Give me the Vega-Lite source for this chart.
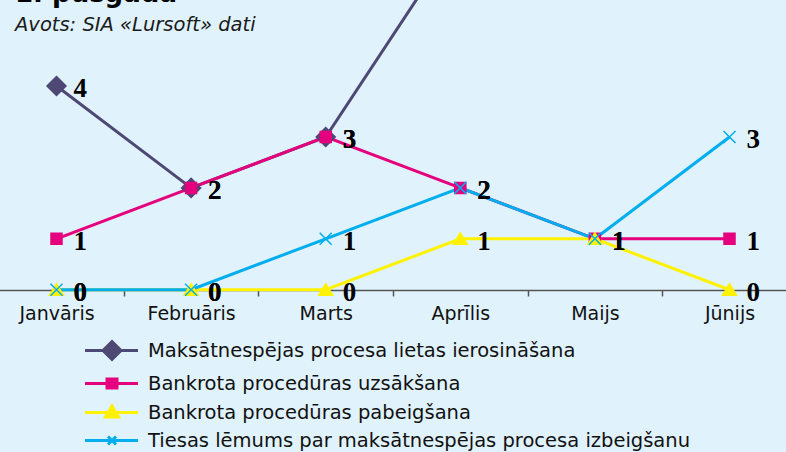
{
  "$schema": "https://vega.github.io/schema/vega-lite/v6.json",
  "width": 786,
  "height": 305,
  "autosize": {"type": "none"},
  "padding": {"top": 0, "left": 0, "right": 0, "bottom": 147},
  "background": "#E0F2FC",
  "config": {"view": {"stroke": null}, "font": "DejaVu Sans"},
  "title": {
    "text": "1. pusgadā",
    "subtitle": "Avots: SIA «Lursoft» dati",
    "anchor": "start",
    "frame": "group",
    "orient": "top",
    "dx": 15,
    "offset": -34,
    "font": "DejaVu Sans",
    "fontSize": 26,
    "fontWeight": "bold",
    "color": "#000000",
    "subtitleFont": "DejaVu Sans",
    "subtitleFontSize": 19.5,
    "subtitleFontStyle": "italic",
    "subtitleColor": "#1a1a1a",
    "subtitlePadding": 9
  },
  "data": {
    "values": [
      {"month": "Janvāris", "series": "Maksātnespējas procesa lietas ierosināšana", "value": 4},
      {"month": "Februāris", "series": "Maksātnespējas procesa lietas ierosināšana", "value": 2},
      {"month": "Marts", "series": "Maksātnespējas procesa lietas ierosināšana", "value": 3},
      {"month": "Aprīlis", "series": "Maksātnespējas procesa lietas ierosināšana", "value": 7},
      {"month": "Maijs", "series": "Maksātnespējas procesa lietas ierosināšana", "value": 8},
      {"month": "Jūnijs", "series": "Maksātnespējas procesa lietas ierosināšana", "value": 7},
      {"month": "Janvāris", "series": "Bankrota procedūras uzsākšana", "value": 1},
      {"month": "Februāris", "series": "Bankrota procedūras uzsākšana", "value": 2},
      {"month": "Marts", "series": "Bankrota procedūras uzsākšana", "value": 3},
      {"month": "Aprīlis", "series": "Bankrota procedūras uzsākšana", "value": 2},
      {"month": "Maijs", "series": "Bankrota procedūras uzsākšana", "value": 1},
      {"month": "Jūnijs", "series": "Bankrota procedūras uzsākšana", "value": 1},
      {"month": "Janvāris", "series": "Bankrota procedūras pabeigšana", "value": 0},
      {"month": "Februāris", "series": "Bankrota procedūras pabeigšana", "value": 0},
      {"month": "Marts", "series": "Bankrota procedūras pabeigšana", "value": 0},
      {"month": "Aprīlis", "series": "Bankrota procedūras pabeigšana", "value": 1},
      {"month": "Maijs", "series": "Bankrota procedūras pabeigšana", "value": 1},
      {"month": "Jūnijs", "series": "Bankrota procedūras pabeigšana", "value": 0},
      {"month": "Janvāris", "series": "Tiesas lēmums par maksātnespējas procesa izbeigšanu", "value": 0},
      {"month": "Februāris", "series": "Tiesas lēmums par maksātnespējas procesa izbeigšanu", "value": 0},
      {"month": "Marts", "series": "Tiesas lēmums par maksātnespējas procesa izbeigšanu", "value": 1},
      {"month": "Aprīlis", "series": "Tiesas lēmums par maksātnespējas procesa izbeigšanu", "value": 2},
      {"month": "Maijs", "series": "Tiesas lēmums par maksātnespējas procesa izbeigšanu", "value": 1},
      {"month": "Jūnijs", "series": "Tiesas lēmums par maksātnespējas procesa izbeigšanu", "value": 3}
    ]
  },
  "encoding": {
    "x": {
      "field": "month",
      "type": "nominal",
      "sort": ["Janvāris", "Februāris", "Marts", "Aprīlis", "Maijs", "Jūnijs"],
      "scale": {"type": "band", "range": [-10.8, 796.8], "paddingInner": 0, "paddingOuter": 0},
      "axis": {
        "title": null,
        "labelAngle": 0,
        "offset": -15,
        "tickBand": "extent",
        "domainColor": "#555555",
        "domainWidth": 1.5,
        "tickColor": "#555555",
        "tickWidth": 1.5,
        "tickSize": 6,
        "labelFont": "DejaVu Sans",
        "labelFontSize": 19,
        "labelColor": "#111111",
        "labelPadding": 8
      }
    },
    "y": {
      "field": "value",
      "type": "quantitative",
      "scale": {"domain": [-0.3, 5.69], "nice": false, "zero": false},
      "axis": null
    }
  },
  "layer": [
    {
      "mark": {"type": "line", "strokeWidth": 3, "clip": true},
      "encoding": {
        "color": {
          "field": "series",
          "type": "nominal",
          "scale": {
            "domain": ["Maksātnespējas procesa lietas ierosināšana", "Bankrota procedūras uzsākšana", "Bankrota procedūras pabeigšana", "Tiesas lēmums par maksātnespējas procesa izbeigšanu"],
            "range": ["#4E4875", "#E5007E", "#FFF200", "#00AEEF"]
          },
          "legend": {
            "orient": "none",
            "legendX": 85,
            "legendY": 339,
            "title": null,
            "padding": 0,
            "symbolSize": 400,
            "symbolStrokeWidth": 3,
            "labelOffset": 40,
            "labelLimit": 0,
            "labelFont": "DejaVu Sans",
            "labelFontSize": 19.5,
            "labelColor": "#111111",
            "rowPadding": 6,
            "encode": {
              "symbols": {
                "update": {
                  "shape": {"signal": "datum.index === 0 ? 'M-1.15,0H4.15M1.55,-0.9L2.45,0L1.55,0.9L0.65,0Z' : datum.index === 1 ? 'M-1.15,0H4.15M1.05,-0.45H2.05V0.45H1.05Z' : datum.index === 2 ? 'M-1.15,0H4.15M1.55,-0.65L2.2,0.45L0.9,0.45Z' : 'M-1.15,0H4.15M1.15,-0.4L1.95,0.4M1.15,0.4L1.95,-0.4'"},
                  "fill": {"scale": "color", "field": "value"},
                  "stroke": {"scale": "color", "field": "value"},
                  "strokeWidth": {"value": 3},
                  "opacity": {"value": 1}
                }
              }
            }
          }
        }
      }
    },
    {
      "transform": [{"filter": "datum.series === 'Maksātnespējas procesa lietas ierosināšana'"}],
      "mark": {"type": "point", "shape": "M0,-0.95L0.95,0L0,0.95L-0.95,0Z", "size": 400, "filled": true, "fill": "#4E4875", "stroke": "#4E4875", "strokeWidth": 1.5, "opacity": 1, "clip": true}
    },
    {
      "transform": [{"filter": "datum.series === 'Bankrota procedūras uzsākšana'"}],
      "mark": {"type": "point", "shape": "M-0.55,-0.55H0.55V0.55H-0.55Z", "size": 400, "filled": true, "fill": "#E5007E", "stroke": "#E5007E", "strokeWidth": 1.5, "opacity": 1, "clip": true}
    },
    {
      "transform": [{"filter": "datum.series === 'Bankrota procedūras pabeigšana'"}],
      "mark": {"type": "point", "shape": "M0,-0.6L0.7,0.55L-0.7,0.55Z", "size": 400, "filled": true, "fill": "#FFF200", "stroke": "#FFF200", "strokeWidth": 1.5, "opacity": 1, "clip": true}
    },
    {
      "transform": [{"filter": "datum.series === 'Tiesas lēmums par maksātnespējas procesa izbeigšanu'"}],
      "mark": {"type": "point", "shape": "M-0.6,-0.6L0.6,0.6M-0.6,0.6L0.6,-0.6", "size": 400, "filled": false, "stroke": "#00AEEF", "strokeWidth": 1.5, "opacity": 1, "clip": true}
    },
    {
      "mark": {"type": "text", "align": "left", "baseline": "middle", "dx": 17, "dy": 3, "font": "Liberation Serif", "fontSize": 27, "fontWeight": "bold", "color": "#000000", "clip": true},
      "encoding": {
        "text": {"field": "value", "type": "quantitative"}
      }
    }
  ]
}
